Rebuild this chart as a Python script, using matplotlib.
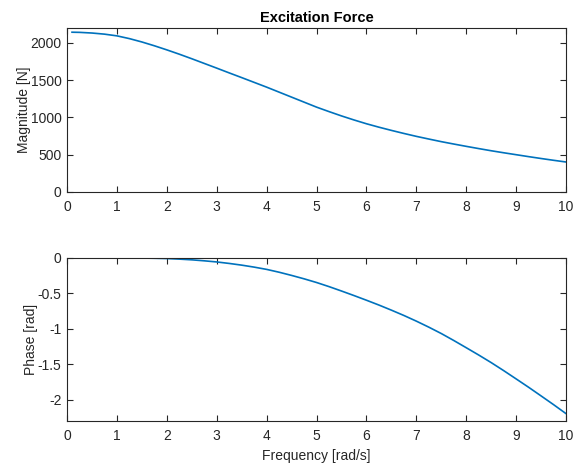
import matplotlib
matplotlib.use("Agg")
import matplotlib.pyplot as plt

# Excitation force frequency response, magnitude and phase
freq = [0.1, 0.25, 0.5, 0.75, 1.0, 1.25, 1.5, 1.75, 2.0, 2.25, 2.5, 2.75, 3.0, 3.25,
        3.5, 3.75, 4.0, 4.25, 4.5, 4.75, 5.0, 5.25, 5.5, 5.75, 6.0, 6.25, 6.5, 6.75,
        7.0, 7.25, 7.5, 7.75, 8.0, 8.25, 8.5, 8.75, 9.0, 9.25, 9.5, 9.75, 10.0]
magnitude = [2143, 2141, 2132, 2117, 2094, 2057, 2012, 1961, 1906, 1848, 1787, 1724,
             1661, 1597, 1534, 1470, 1406, 1339, 1272, 1205, 1138, 1078, 1020, 966,
             915, 869, 826, 785, 746, 710, 675, 643, 612, 582, 553, 526, 500, 474,
             449, 425, 402]
phase = [0.0, 0.0, -0.0005, -0.001, -0.002, -0.003, -0.005, -0.008, -0.012, -0.02,
         -0.03, -0.044, -0.06, -0.081, -0.105, -0.133, -0.165, -0.205, -0.25, -0.298,
         -0.35, -0.408, -0.47, -0.534, -0.60, -0.668, -0.74, -0.815, -0.895, -0.98,
         -1.07, -1.168, -1.27, -1.373, -1.48, -1.593, -1.71, -1.828, -1.95, -2.073, -2.20]

mag_ticks = [0, 500, 1000, 1500, 2000]
phase_ticks = [-2, -1.5, -1, -0.5, 0]
phase_labels = ["-2", "-1.5", "-1", "-0.5", "0"]
freq_ticks = list(range(0, 11))

plt.rcParams['font.family'] = ['Liberation Sans', 'DejaVu Sans']
plt.rcParams['font.size'] = 10
plt.rcParams['axes.unicode_minus'] = False

line_color = '#0072BD'
axis_color = '#262626'

fig = plt.figure(figsize=(5.73, 4.66), dpi=100)
ax1 = fig.add_axes([0.117, 0.588, 0.871, 0.352])
ax2 = fig.add_axes([0.117, 0.097, 0.871, 0.350])

ax1.plot(freq, magnitude, color=line_color, linewidth=1.2)
ax1.set_xlim(0, 10)
ax1.set_ylim(0, 2200)
ax1.set_yticks(mag_ticks)
ax1.set_ylabel('Magnitude [N]', labelpad=-0.5)
ax1.set_title('Excitation Force', fontweight='bold', fontsize=10.5, pad=4)

ax2.plot(freq, phase, color=line_color, linewidth=1.2)
ax2.set_xlim(0, 10)
ax2.set_ylim(-2.3, 0)
ax2.set_yticks(phase_ticks)
ax2.set_yticklabels(phase_labels)
ax2.set_ylabel('Phase [rad]', labelpad=-0.5)
ax2.set_xlabel('Frequency [rad/s]', labelpad=4.5)

for ax in (ax1, ax2):
    ax.set_xticks(freq_ticks)
    ax.tick_params(direction='in', top=True, right=True, length=4,
                   width=0.8, colors=axis_color, labelcolor=axis_color)
    ax.tick_params(axis='x', pad=6)
    ax.tick_params(axis='y', pad=4)
    for s in ax.spines.values():
        s.set_color(axis_color)
        s.set_linewidth(0.8)
    ax.yaxis.label.set_color(axis_color)
    ax.xaxis.label.set_color(axis_color)

fig.savefig('out.png', dpi=100, facecolor='white')
